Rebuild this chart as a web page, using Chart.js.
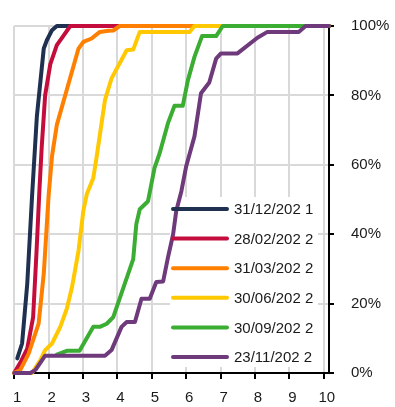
<!DOCTYPE html>
<html lang="en">
<head>
  <meta charset="UTF-8">
  <title>Cumulative curves</title>
  <script src="https://cdn.jsdelivr.net/npm/chart.js"></script>
  <style>
    body { margin: 0; background: #fff; }
    #wrap { width: 395px; height: 407px; }
  </style>
</head>
<body>
  <div id="wrap"><canvas id="chart" width="395" height="407"></canvas></div>

  <script>
    // series labels and colours
    const seriesLabels = ['31/12/202 1', '28/02/202 2', '31/03/202 2', '30/06/202 2', '30/09/202 2', '23/11/202 2'];
    const seriesColors = ['#1f3050', '#c40d3c', '#ff7f00', '#ffc800', '#3aad32', '#6e3a7c'];

    // values (x, % cumulated)
    const navyX = [1.09, 1.23, 1.38, 1.52, 1.66, 1.86, 1.95, 2.1, 2.24, 10.15];
    const navyY = [4.2, 8.5, 25.7, 51, 74, 93.5, 95.9, 98.8, 100, 100];

    const redX = [1, 1.18, 1.38, 1.55, 1.65, 1.73, 1.8, 1.9, 2.05, 2.24, 2.44, 2.63, 10.15];
    const redY = [0, 3, 7, 16, 35, 52, 65, 80, 89, 94.5, 97.3, 100, 100];

    const orangeX = [1, 1.18, 1.42, 1.71, 1.86, 2.0, 2.1, 2.24, 2.87, 3.01, 3.25, 3.49, 3.74, 3.88, 4.07, 10.15];
    const orangeY = [0, 0.9, 5.6, 14.2, 28.6, 51, 62.5, 71.5, 93.5, 95.4, 96.4, 98.3, 98.6, 98.7, 100, 100];

    const yellowX = [1, 1.52, 1.76, 1.9, 2.1, 2.34, 2.53, 2.68, 2.87, 3.01, 3.11, 3.3, 3.4, 3.64, 3.83, 4.27, 4.46, 4.65, 6.1, 6.24, 10.15];
    const yellowY = [0, 0, 3.7, 6.6, 8.5, 13.3, 18.5, 24.7, 35.2, 46.7, 51.5, 56.2, 62.5, 78.7, 84.9, 93, 93.2, 98.3, 98.3, 100, 100];

    const greenX = [2.24, 2.53, 2.9, 3.3, 3.49, 3.69, 3.88, 4.46, 4.55, 4.65, 4.89, 5.08, 5.23, 5.47, 5.66, 5.9, 6.05, 6.24, 6.46, 6.87, 7.06, 10.15];
    const greenY = [5.3, 6.4, 6.4, 13.3, 13.3, 14.2, 16.1, 32.8, 42.9, 47.2, 49.5, 59.1, 63.4, 72, 77, 77, 84.4, 91.1, 97.1, 97.1, 100, 100];

    const purpleX = [1, 1.47, 1.62, 1.9, 3.64, 3.83, 4.12, 4.27, 4.51, 4.7, 4.94, 5.13, 5.33, 5.47, 5.62, 5.71, 5.86, 6.0, 6.24, 6.43, 6.67, 6.87, 7.01, 7.49, 8.07, 8.36, 9.27, 9.47, 10.15];
    const purpleY = [0, 0, 0.9, 5, 5, 6.6, 13.3, 14.7, 14.7, 21.4, 21.4, 26.2, 26.4, 33.3, 40, 46.7, 52.4, 59.6, 68.2, 80.6, 83.7, 90.6, 92.1, 92.1, 96.6, 98.3, 98.3, 100, 100];

    const xTickLabels = ['1', '2', '3', '4', '5', '6', '7', '8', '9', '10'];
    const yTickLabels = ['0%', '20%', '40%', '60%', '80%', '100%'];

    const seriesX = [navyX, redX, orangeX, yellowX, greenX, purpleX];
    const seriesY = [navyY, redY, orangeY, yellowY, greenY, purpleY];

    Chart.defaults.font.family = "'Liberation Sans', Arial, sans-serif";
    Chart.defaults.font.size = 15;
    Chart.defaults.color = '#1a1a1a';

    // legend drawn inside the plot, right side
    const sideLegend = {
      id: 'sideLegend',
      beforeDatasetsDraw(chart) {
        const ctx = chart.ctx;
        ctx.save();
        ctx.fillStyle = '#fff';
        ctx.fillRect(170, 197, 148, 170);
        ctx.restore();
      },
      afterDatasetsDraw(chart) {
        const ctx = chart.ctx;
        ctx.save();
        ctx.lineWidth = 4;
        ctx.lineCap = 'round';
        ctx.textBaseline = 'middle';
        ctx.font = "15px 'Liberation Sans', Arial, sans-serif";
        seriesLabels.forEach((label, i) => {
          const y = 209 + i * 29.6;
          ctx.strokeStyle = seriesColors[i];
          ctx.beginPath();
          ctx.moveTo(173, y);
          ctx.lineTo(227, y);
          ctx.stroke();
          ctx.fillStyle = '#1a1a1a';
          ctx.fillText(label, 234, y + 1);
        });
        ctx.restore();
      }
    };

    const datasets = seriesLabels.map((label, i) => ({
      label: label,
      data: seriesX[i].map((x, j) => ({ x: x, y: seriesY[i][j] })),
      borderColor: seriesColors[i],
      backgroundColor: seriesColors[i],
      borderWidth: 4,
      borderCapStyle: 'round',
      borderJoinStyle: 'round',
      pointRadius: 0,
      showLine: true,
      tension: 0,
      clip: 6,
      order: seriesLabels.length - i
    }));

    new Chart(document.getElementById('chart'), {
      type: 'scatter',
      data: { datasets: datasets },
      plugins: [sideLegend],
      options: {
        responsive: false,
        animation: false,
        layout: { padding: { left: 12, top: 24, right: 0, bottom: 0 } },
        plugins: {
          legend: { display: false },
          tooltip: { enabled: false }
        },
        scales: {
          x: {
            type: 'linear',
            min: 1,
            max: 10.15,
            grid: { color: '#d9d9d9', lineWidth: 2, tickColor: '#000', tickLength: 6 },
            border: { color: '#000', width: 2 },
            ticks: {
              stepSize: 1,
              includeBounds: false,
              padding: 10,
              labelOffset: 3,
              maxRotation: 0,
              callback: (v) => xTickLabels[v - 1]
            },
            afterFit: (scale) => { scale.height = 34; }
          },
          y: {
            position: 'right',
            min: 0,
            max: 100,
            grid: { color: '#d9d9d9', lineWidth: 2, tickColor: '#000', tickLength: 5 },
            border: { color: '#000', width: 2 },
            ticks: {
              stepSize: 20,
              padding: 17,
              callback: (v) => yTickLabels[v / 20]
            },
            afterFit: (scale) => { scale.width = 66; }
          }
        }
      }
    });
  </script>
</body>
</html>
